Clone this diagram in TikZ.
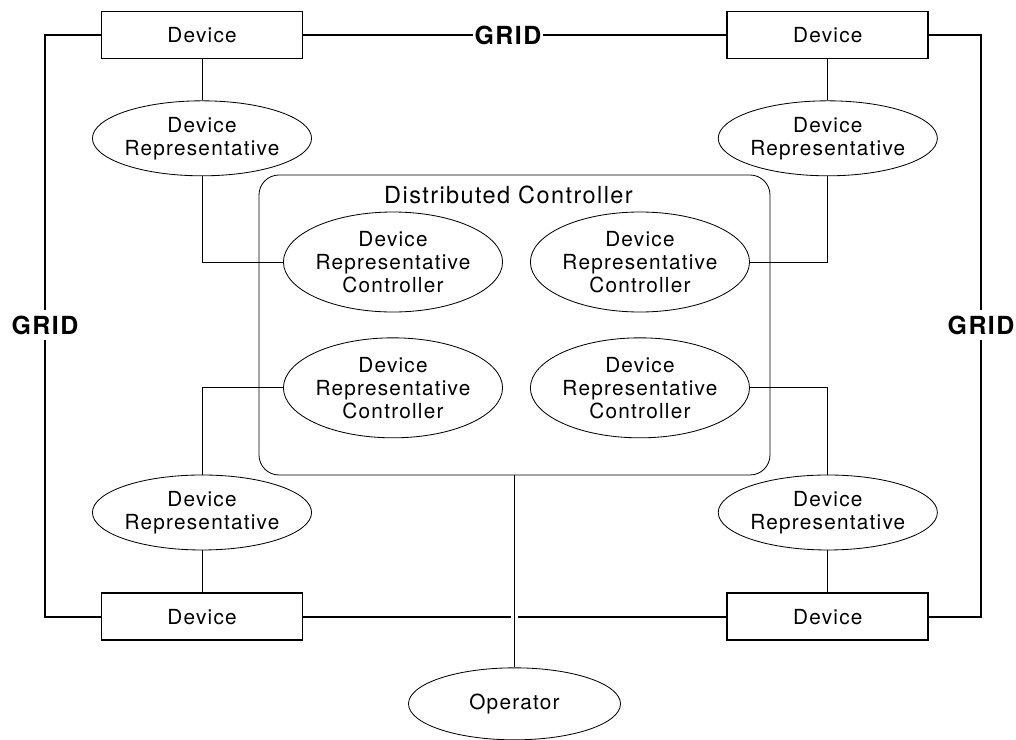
\documentclass[tikz,border=0pt]{standalone}
\usepackage{fontspec}
\setmainfont{TeX Gyre Heros}[LetterSpace=6]
\usetikzlibrary{positioning,shapes.geometric}

\begin{document}
\begin{tikzpicture}[
  node distance=0.41in and 4.23in,
  every node/.style={font=\fontsize{15}{16.6}\selectfont},
  devbox/.style={draw,line width=1.3pt,minimum width=2.01in,
    minimum height=0.47in,inner sep=0pt},
  repov/.style={draw,ellipse,line width=0.6pt,minimum width=2.12in,
    minimum height=0.75in,inner sep=0pt,align=center},
  drcov/.style={repov,minimum width=2.13in,minimum height=1.00in},
  ctlbox/.style={draw,line width=0.6pt,rounded corners=0.2in,
    minimum width=5.11in,minimum height=3.00in},
  gridlbl/.style={font=\fontsize{18}{20}\selectfont\bfseries,inner sep=1pt},
  gline/.style={line width=1.8pt},
  link/.style={line width=0.7pt}
]
  \useasboundingbox (-2.02in,0.35in) rectangle (8.14in,-7.05in);
  % devices on the grid
  \node[devbox] (devTL) {Device};
  \node[devbox,right=of devTL] (devTR) {Device};
  \node[devbox,below=5.33in of devTL] (devBL) {Device};
  \node[devbox,right=of devBL] (devBR) {Device};
  \node[repov,below=of devTL] (repTL) {Device\\Representative};
  \node[repov,below=of devTR] (repTR) {Device\\Representative};
  \node[repov,above=0.42in of devBL] (repBL) {Device\\Representative};
  \node[repov,above=0.42in of devBR] (repBR) {Device\\Representative};
  % distributed controller
  \node[ctlbox] (ctrl) at (3.125in,-2.90in) {};
  \node[font=\fontsize{17}{19}\selectfont] (title)
    at ([xshift=-0.06in,yshift=-0.20in]ctrl.north) {Distributed Controller};
  \node[drcov] (drcTL) at (1.91in,-2.27in) {Device\\Representative\\Controller};
  \node[drcov,right=0.27in of drcTL] (drcTR) {Device\\Representative\\Controller};
  \node[drcov,below=0.25in of drcTL] (drcBL) {Device\\Representative\\Controller};
  \node[drcov,right=0.27in of drcBL] (drcBR) {Device\\Representative\\Controller};
  \node[repov,minimum height=0.72in,below=1.92in of ctrl] (op) {Operator};
  \node[gridlbl] (gridT) at (3.06in,0) {GRID};
  \node[gridlbl,inner sep=4pt] (gridL) at (-1.57in,-2.90in) {GRID};
  \node[gridlbl,inner sep=4pt] (gridR) at (7.79in,-2.90in) {GRID};
  % grid lines
  \draw[gline] (devTL) -- (gridT) -- (devTR);
  \draw[gline] (devTL) -| (gridL);
  \draw[gline] (gridL) |- (devBL);
  \draw[gline] (devTR) -| (gridR);
  \draw[gline] (gridR) |- (devBR);
  \draw[gline] (devBL) -- (devBR);
  % links
  \foreach \p in {TL,TR,BL,BR}
    {\draw[link] (dev\p) -- (rep\p);}
  \draw[link] (repTL) |- (drcTL);
  \draw[link] (repTR) |- (drcTR);
  \draw[link] (drcBL) -| (repBL);
  \draw[link] (drcBR) -| (repBR);
  \draw[link,preaction={draw=white,line width=4.5pt,shorten <=3pt,shorten >=2pt}]
    (ctrl) -- (op);
\end{tikzpicture}
\end{document}
